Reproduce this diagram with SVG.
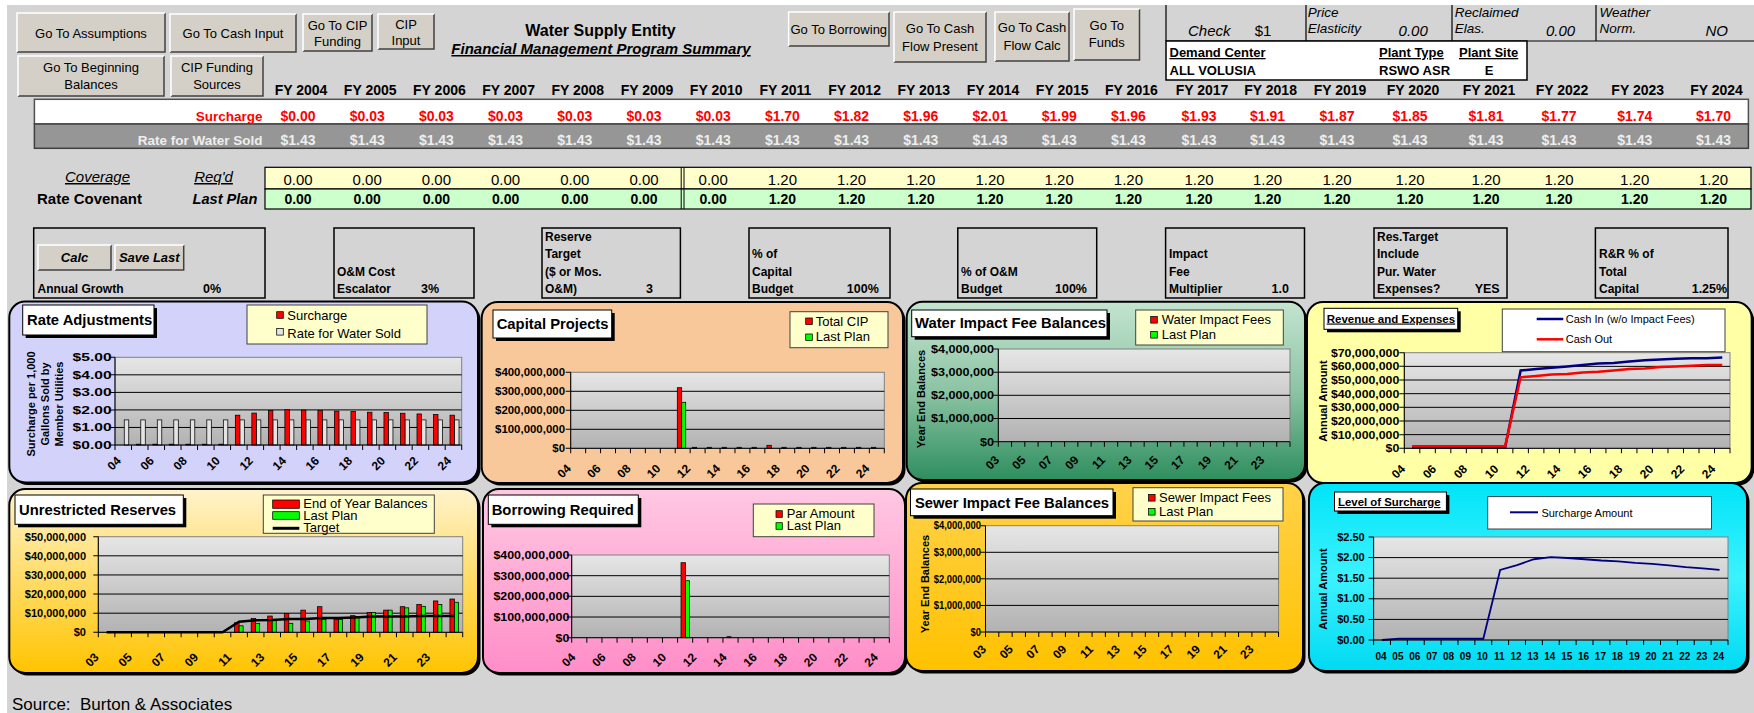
<svg xmlns="http://www.w3.org/2000/svg" width="1754" height="713" viewBox="0 0 1754 713">
<defs>
<linearGradient id="plotg" x1="0" y1="0" x2="0" y2="1"><stop offset="0" stop-color="#E6E6E6"/><stop offset="1" stop-color="#B2B2B2"/></linearGradient>
<linearGradient id="gP3" x1="0" y1="0" x2="0" y2="1"><stop offset="0" stop-color="#C4E4D0"/><stop offset="0.5" stop-color="#8CC4A4"/><stop offset="1" stop-color="#2E8E5E"/></linearGradient>
<linearGradient id="gP5" x1="0" y1="0" x2="0" y2="1"><stop offset="0" stop-color="#FFF3CC"/><stop offset="1" stop-color="#FFC400"/></linearGradient>
<linearGradient id="gP6" x1="0" y1="0" x2="0" y2="1"><stop offset="0" stop-color="#FFC8E2"/><stop offset="1" stop-color="#FF8EC8"/></linearGradient>
<linearGradient id="gP7" x1="0" y1="0" x2="0" y2="1"><stop offset="0" stop-color="#FFD24A"/><stop offset="1" stop-color="#FFC200"/></linearGradient>
<linearGradient id="gP8" x1="0" y1="0" x2="0" y2="1"><stop offset="0" stop-color="#00E4F8"/><stop offset="0.5" stop-color="#3CF2FF"/><stop offset="1" stop-color="#00DAF2"/></linearGradient>
<style>
text{font-family:"Liberation Sans",Arial,sans-serif;fill:#000}
.btn{fill:#D4D0C8}
.hl{fill:none;stroke:#fff;stroke-width:1.5}
.sh{fill:none;stroke:#404040;stroke-width:1.5}
.bt{font-size:13px;text-anchor:middle}
.fy{font-size:14px;font-weight:bold;text-anchor:middle}
.sv{font-size:14px;font-weight:bold;fill:#f00;text-anchor:middle}
.rv{font-size:14px;font-weight:bold;fill:#EEEEEE;text-anchor:middle}
.cy{font-size:15px;text-anchor:middle}
.cg{font-size:14px;font-weight:bold;text-anchor:middle}
.pb{fill:none;stroke:#000;stroke-width:1.5}
.pt{font-size:12px;font-weight:bold}
.pv{font-size:12.5px;font-weight:bold}
.panel{stroke:#000;stroke-width:2}
.shd{fill:#000}
.tbox{fill:#fff;stroke:#000;stroke-width:1}
.ttl{font-size:14.8px;font-weight:bold}
.leg{fill:#FFFFCC;stroke:#404040;stroke-width:1}
.legw{fill:#fff;stroke:#404040;stroke-width:1}
.lt{font-size:13px}
.ls{font-size:11px}
.plot{fill:url(#plotg);stroke:#808080;stroke-width:1}
.grid{stroke:#000;stroke-width:1}
.ax{stroke:#000;stroke-width:1;fill:none}
.tick{stroke:#000;stroke-width:5;fill:none}
.yl{font-size:11px;font-weight:bold;text-anchor:end}
.xl{font-size:12px;font-weight:bold;text-anchor:end}
.yt{font-size:11px;font-weight:bold;text-anchor:middle}
.r{fill:#f00;stroke:#000;stroke-width:0.75}
.g{fill:#0f0;stroke:#000;stroke-width:0.75}
.w{fill:#E4E4E4;stroke:#000;stroke-width:0.75}
</style>
</defs>

<rect x="0" y="0" width="1754" height="713" fill="#fff"/>
<rect x="7" y="5" width="1747" height="708" fill="#D4D4D4"/>

<!-- Buttons -->
<g id="btn-assumptions"><rect class="btn" x="17" y="13" width="148" height="39"/><path class="sh" d="M17,52H165V13"/><path class="hl" d="M17,52V13H165"/><text class="bt" x="91" y="37.5">Go To Assumptions</text></g>
<g id="btn-cash-input"><rect class="btn" x="170" y="14" width="126" height="38"/><path class="sh" d="M170,52H296V14"/><path class="hl" d="M170,52V14H296"/><text class="bt" x="233" y="38">Go To Cash Input</text></g>
<g id="btn-cip-funding"><rect class="btn" x="303" y="14" width="69" height="37"/><path class="sh" d="M303,51H372V14"/><path class="hl" d="M303,51V14H372"/><text class="bt" x="337.5" y="30">Go To CIP</text><text class="bt" x="337.5" y="46">Funding</text></g>
<g id="btn-cip-input"><rect class="btn" x="378" y="14" width="56" height="35"/><path class="sh" d="M378,49H434V14"/><path class="hl" d="M378,49V14H434"/><text class="bt" x="406" y="29">CIP</text><text class="bt" x="406" y="45">Input</text></g>
<g id="btn-beginning"><rect class="btn" x="18" y="56" width="146" height="40"/><path class="sh" d="M18,96H164V56"/><path class="hl" d="M18,96V56H164"/><text class="bt" x="91" y="72">Go To Beginning</text><text class="bt" x="91" y="89">Balances</text></g>
<g id="btn-cip-sources"><rect class="btn" x="171" y="56" width="92" height="40"/><path class="sh" d="M171,96H263V56"/><path class="hl" d="M171,96V56H263"/><text class="bt" x="217" y="72">CIP Funding</text><text class="bt" x="217" y="89">Sources</text></g>
<g id="btn-borrowing"><rect class="btn" x="788.6" y="12" width="100.4" height="34"/><path class="sh" d="M788.6,46H889V12"/><path class="hl" d="M788.6,46V12H889"/><text class="bt" x="838.8" y="34">Go To Borrowing</text></g>
<g id="btn-cf-present"><rect class="btn" x="894" y="12" width="92" height="50"/><path class="sh" d="M894,62H986V12"/><path class="hl" d="M894,62V12H986"/><text class="bt" x="940" y="33">Go To Cash</text><text class="bt" x="940" y="51">Flow Present</text></g>
<g id="btn-cf-calc"><rect class="btn" x="995" y="12" width="74" height="49"/><path class="sh" d="M995,61H1069V12"/><path class="hl" d="M995,61V12H1069"/><text class="bt" x="1032" y="32">Go To Cash</text><text class="bt" x="1032" y="50">Flow Calc</text></g>
<g id="btn-funds"><rect class="btn" x="1074" y="9" width="65.5" height="51"/><path class="sh" d="M1074,60H1139.5V9"/><path class="hl" d="M1074,60V9H1139.5"/><text class="bt" x="1106.8" y="30">Go To</text><text class="bt" x="1106.8" y="47">Funds</text></g>

<!-- Title -->
<g id="title">
<text x="600.5" y="36" text-anchor="middle" font-size="16" font-weight="bold">Water Supply Entity</text>
<text x="601" y="54" text-anchor="middle" font-size="15" font-weight="bold" font-style="italic" text-decoration="underline">Financial Management Program Summary</text>
</g>

<!-- Top right info -->
<g id="info-box">
<path d="M1166,5V41M1306,5V41M1452,5V41M1596,5V41M1166,41H1754" stroke="#000" stroke-width="1.2" fill="none"/>
<text x="1188" y="36" font-size="15" font-style="italic">Check</text>
<text x="1254.7" y="36" font-size="15">$1</text>
<text x="1307.7" y="16.5" font-size="13.5" font-style="italic">Price</text>
<text x="1307.7" y="33" font-size="13.5" font-style="italic">Elasticity</text>
<text x="1398.6" y="36" font-size="15" font-style="italic">0.00</text>
<text x="1454.7" y="16.5" font-size="13.5" font-style="italic">Reclaimed</text>
<text x="1454.7" y="33" font-size="13.5" font-style="italic">Elas.</text>
<text x="1546" y="36" font-size="15" font-style="italic">0.00</text>
<text x="1599.4" y="16.5" font-size="13.5" font-style="italic">Weather</text>
<text x="1599.4" y="33" font-size="13.5" font-style="italic">Norm.</text>
<text x="1705.5" y="36" font-size="15" font-style="italic">NO</text>
</g>
<g id="demand-box">
<rect x="1166" y="41" width="361" height="39" fill="#fff" stroke="#000" stroke-width="1.5"/>
<text x="1169.5" y="57" font-size="13" font-weight="bold" text-decoration="underline">Demand Center</text>
<text x="1379" y="57" font-size="13" font-weight="bold" text-decoration="underline">Plant Type</text>
<text x="1459" y="57" font-size="13" font-weight="bold" text-decoration="underline">Plant Site</text>
<text x="1169.5" y="75" font-size="13" font-weight="bold">ALL VOLUSIA</text>
<text x="1379" y="75" font-size="13" font-weight="bold">RSWO ASR</text>
<text x="1489" y="75" font-size="13" font-weight="bold" text-anchor="middle">E</text>
</g>

<!-- Rate table -->
<g id="rate-table">
<text class="fy" y="95"><tspan x="301">FY 2004</tspan><tspan x="370.2">FY 2005</tspan><tspan x="439.4">FY 2006</tspan><tspan x="508.6">FY 2007</tspan><tspan x="577.8">FY 2008</tspan><tspan x="647">FY 2009</tspan><tspan x="716.2">FY 2010</tspan><tspan x="785.4">FY 2011</tspan><tspan x="854.6">FY 2012</tspan><tspan x="923.8">FY 2013</tspan><tspan x="993">FY 2014</tspan><tspan x="1062.2">FY 2015</tspan><tspan x="1131.4">FY 2016</tspan><tspan x="1202">FY 2017</tspan><tspan x="1270.6">FY 2018</tspan><tspan x="1340">FY 2019</tspan><tspan x="1413">FY 2020</tspan><tspan x="1489">FY 2021</tspan><tspan x="1562">FY 2022</tspan><tspan x="1637.7">FY 2023</tspan><tspan x="1716.5">FY 2024</tspan></text>
<rect x="34.4" y="99.3" width="1714" height="24.7" fill="#fff" stroke="#505050" stroke-width="1.5"/>
<rect x="34.4" y="124" width="1714" height="24.3" fill="#969696" stroke="#404040" stroke-width="1.5"/>
<text x="262.5" y="120.5" font-size="13.5" font-weight="bold" text-anchor="end" style="fill:#f00">Surcharge</text>
<text x="262.5" y="144.5" font-size="13.5" font-weight="bold" text-anchor="end" style="fill:#EEEEEE">Rate for Water Sold</text>
<text class="sv" y="120.5" style="fill:#f00"><tspan x="298">$0.00</tspan><tspan x="367.2">$0.03</tspan><tspan x="436.4">$0.03</tspan><tspan x="505.6">$0.03</tspan><tspan x="574.8">$0.03</tspan><tspan x="644">$0.03</tspan><tspan x="713.2">$0.03</tspan><tspan x="782.4">$1.70</tspan><tspan x="851.6">$1.82</tspan><tspan x="920.8">$1.96</tspan><tspan x="990">$2.01</tspan><tspan x="1059.2">$1.99</tspan><tspan x="1128.4">$1.96</tspan><tspan x="1199">$1.93</tspan><tspan x="1267.6">$1.91</tspan><tspan x="1337">$1.87</tspan><tspan x="1410">$1.85</tspan><tspan x="1486">$1.81</tspan><tspan x="1559">$1.77</tspan><tspan x="1634.7">$1.74</tspan><tspan x="1713.5">$1.70</tspan></text>
<text class="rv" y="144.5" style="fill:#EEEEEE"><tspan x="298">$1.43</tspan><tspan x="367.2">$1.43</tspan><tspan x="436.4">$1.43</tspan><tspan x="505.6">$1.43</tspan><tspan x="574.8">$1.43</tspan><tspan x="644">$1.43</tspan><tspan x="713.2">$1.43</tspan><tspan x="782.4">$1.43</tspan><tspan x="851.6">$1.43</tspan><tspan x="920.8">$1.43</tspan><tspan x="990">$1.43</tspan><tspan x="1059.2">$1.43</tspan><tspan x="1128.4">$1.43</tspan><tspan x="1199">$1.43</tspan><tspan x="1267.6">$1.43</tspan><tspan x="1337">$1.43</tspan><tspan x="1410">$1.43</tspan><tspan x="1486">$1.43</tspan><tspan x="1559">$1.43</tspan><tspan x="1634.7">$1.43</tspan><tspan x="1713.5">$1.43</tspan></text>
</g>

<!-- Coverage table -->
<g id="coverage-table">
<text x="97.5" y="182" font-size="15" font-style="italic" text-anchor="middle" text-decoration="underline">Coverage</text>
<text x="213.5" y="182" font-size="15" font-style="italic" text-anchor="middle" text-decoration="underline">Req'd</text>
<text x="37" y="204" font-size="15" font-weight="bold">Rate Covenant</text>
<text x="192.5" y="204" font-size="14.6" font-weight="bold" font-style="italic">Last Plan</text>
<rect x="265" y="167.3" width="1486" height="21.7" fill="#FFFFCC" stroke="#000" stroke-width="1.2"/>
<rect x="265" y="189" width="1486" height="20" fill="#CCFFCC" stroke="#000" stroke-width="1.2"/>
<path d="M681.2,167.3V209M684,167.3V209" stroke="#000" stroke-width="1"/>
<text class="cy" y="185"><tspan x="298">0.00</tspan><tspan x="367.2">0.00</tspan><tspan x="436.4">0.00</tspan><tspan x="505.6">0.00</tspan><tspan x="574.8">0.00</tspan><tspan x="644">0.00</tspan><tspan x="713.2">0.00</tspan><tspan x="782.4">1.20</tspan><tspan x="851.6">1.20</tspan><tspan x="920.8">1.20</tspan><tspan x="990">1.20</tspan><tspan x="1059.2">1.20</tspan><tspan x="1128.4">1.20</tspan><tspan x="1199">1.20</tspan><tspan x="1267.6">1.20</tspan><tspan x="1337">1.20</tspan><tspan x="1410">1.20</tspan><tspan x="1486">1.20</tspan><tspan x="1559">1.20</tspan><tspan x="1634.7">1.20</tspan><tspan x="1713.5">1.20</tspan></text>
<text class="cg" y="204"><tspan x="298">0.00</tspan><tspan x="367.2">0.00</tspan><tspan x="436.4">0.00</tspan><tspan x="505.6">0.00</tspan><tspan x="574.8">0.00</tspan><tspan x="644">0.00</tspan><tspan x="713.2">0.00</tspan><tspan x="782.4">1.20</tspan><tspan x="851.6">1.20</tspan><tspan x="920.8">1.20</tspan><tspan x="990">1.20</tspan><tspan x="1059.2">1.20</tspan><tspan x="1128.4">1.20</tspan><tspan x="1199">1.20</tspan><tspan x="1267.6">1.20</tspan><tspan x="1337">1.20</tspan><tspan x="1410">1.20</tspan><tspan x="1486">1.20</tspan><tspan x="1559">1.20</tspan><tspan x="1634.7">1.20</tspan><tspan x="1713.5">1.20</tspan></text>
</g>

<!-- Parameter boxes -->
<g id="param-growth">
<rect class="pb" x="33.7" y="228" width="231.3" height="70"/>
<rect class="btn" x="38" y="245" width="73" height="25"/><path class="sh" d="M38,270H111V245"/><path class="hl" d="M38,270V245H111"/>
<text x="74.5" y="262" font-size="13" font-weight="bold" font-style="italic" text-anchor="middle">Calc</text>
<rect class="btn" x="115" y="245" width="68.7" height="25"/><path class="sh" d="M115,270H183.7V245"/><path class="hl" d="M115,270V245H183.7"/>
<text x="149.3" y="262" font-size="13" font-weight="bold" font-style="italic" text-anchor="middle">Save Last</text>
<text class="pt" x="37.5" y="293">Annual Growth</text><text class="pv" x="203" y="293">0%</text>
</g>
<g id="param-escalator">
<rect class="pb" x="334" y="228" width="140" height="70"/>
<text class="pt" x="337" y="275.5">O&amp;M Cost</text><text class="pt" x="337" y="293">Escalator</text><text class="pv" x="421" y="293">3%</text>
</g>
<g id="param-reserve">
<rect class="pb" x="542" y="228" width="138.4" height="70"/>
<text class="pt" x="545" y="240.5">Reserve</text><text class="pt" x="545" y="258">Target</text><text class="pt" x="545" y="275.5">($ or Mos.</text><text class="pt" x="545" y="293">O&amp;M)</text><text class="pv" x="646" y="293">3</text>
</g>
<g id="param-capital">
<rect class="pb" x="749" y="228" width="141" height="70"/>
<text class="pt" x="752" y="258">% of</text><text class="pt" x="752" y="275.5">Capital</text><text class="pt" x="752" y="293">Budget</text><text class="pv" x="846.8" y="293">100%</text>
</g>
<g id="param-om">
<rect class="pb" x="957.8" y="228" width="138.9" height="70"/>
<text class="pt" x="961" y="275.5">% of O&amp;M</text><text class="pt" x="961" y="293">Budget</text><text class="pv" x="1055" y="293">100%</text>
</g>
<g id="param-impact">
<rect class="pb" x="1165.6" y="228" width="138.9" height="70"/>
<text class="pt" x="1169" y="258">Impact</text><text class="pt" x="1169" y="275.5">Fee</text><text class="pt" x="1169" y="293">Multiplier</text><text class="pv" x="1271.5" y="293">1.0</text>
</g>
<g id="param-restarget">
<rect class="pb" x="1374" y="228" width="133" height="70"/>
<text class="pt" x="1377" y="240.5">Res.Target</text><text class="pt" x="1377" y="258">Include</text><text class="pt" x="1377" y="275.5">Pur. Water</text><text class="pt" x="1377" y="293">Expenses?</text><text class="pv" x="1474.7" y="293">YES</text>
</g>
<g id="param-rr">
<rect class="pb" x="1595.4" y="228" width="132.6" height="70"/>
<text class="pt" x="1599" y="258">R&amp;R % of</text><text class="pt" x="1599" y="275.5">Total</text><text class="pt" x="1599" y="293">Capital</text><text class="pv" x="1691.7" y="293">1.25%</text>
</g>

<!-- Panel 1: Rate Adjustments -->
<g id="chart-rate-adjustments">
<rect class="shd" x="11.8" y="304" width="468.7" height="181" rx="16"/>
<rect class="panel" x="9.3" y="301.5" width="468.7" height="181" rx="16" fill="#D2D2FA"/>
<rect class="plot" x="115" y="357.3" width="346.7" height="87.7"/>
<path class="grid" d="M115,374.84H461.7M115,392.38H461.7M115,409.92H461.7M115,427.46H461.7"/>
<g class="w">
<rect x="124.25" y="419.9" width="4.5" height="25.1"/><rect x="140.77" y="419.9" width="4.5" height="25.1"/><rect x="157.28" y="419.9" width="4.5" height="25.1"/><rect x="173.79" y="419.9" width="4.5" height="25.1"/><rect x="190.3" y="419.9" width="4.5" height="25.1"/><rect x="206.82" y="419.9" width="4.5" height="25.1"/><rect x="223.33" y="419.9" width="4.5" height="25.1"/><rect x="239.84" y="419.9" width="4.5" height="25.1"/><rect x="256.35" y="419.9" width="4.5" height="25.1"/><rect x="272.87" y="419.9" width="4.5" height="25.1"/><rect x="289.38" y="419.9" width="4.5" height="25.1"/><rect x="305.89" y="419.9" width="4.5" height="25.1"/><rect x="322.4" y="419.9" width="4.5" height="25.1"/><rect x="338.92" y="419.9" width="4.5" height="25.1"/><rect x="355.43" y="419.9" width="4.5" height="25.1"/><rect x="371.94" y="419.9" width="4.5" height="25.1"/><rect x="388.45" y="419.9" width="4.5" height="25.1"/><rect x="404.97" y="419.9" width="4.5" height="25.1"/><rect x="421.48" y="419.9" width="4.5" height="25.1"/><rect x="437.99" y="419.9" width="4.5" height="25.1"/><rect x="454.5" y="419.9" width="4.5" height="25.1"/>
</g>
<g class="r">
<rect x="136.27" y="444.2" width="4.5" height="0.8"/><rect x="152.78" y="444.2" width="4.5" height="0.8"/><rect x="169.29" y="444.2" width="4.5" height="0.8"/><rect x="185.8" y="444.2" width="4.5" height="0.8"/><rect x="202.32" y="444.2" width="4.5" height="0.8"/><rect x="218.83" y="444.2" width="4.5" height="0.8"/>
<rect x="235.34" y="415.18" width="4.5" height="29.82"/><rect x="251.85" y="413.08" width="4.5" height="31.92"/><rect x="268.37" y="410.62" width="4.5" height="34.38"/><rect x="284.88" y="409.74" width="4.5" height="35.26"/><rect x="301.39" y="410.1" width="4.5" height="34.9"/><rect x="317.9" y="410.62" width="4.5" height="34.38"/><rect x="334.42" y="411.15" width="4.5" height="33.85"/><rect x="350.93" y="411.5" width="4.5" height="33.5"/><rect x="367.44" y="412.2" width="4.5" height="32.8"/><rect x="383.95" y="412.55" width="4.5" height="32.45"/><rect x="400.47" y="413.25" width="4.5" height="31.75"/><rect x="416.98" y="413.95" width="4.5" height="31.05"/><rect x="433.49" y="414.48" width="4.5" height="30.52"/><rect x="450" y="415.18" width="4.5" height="29.82"/>
</g>
<path class="ax" d="M115,357.3V445H461.7"/>
<line class="tick" x1="112.5" y1="356.8" x2="112.5" y2="445.5" stroke-dasharray="1 16.54"/>
<line class="tick" x1="114.5" y1="447.5" x2="462.2" y2="447.5" stroke-dasharray="1 15.51"/>
<g transform="translate(111.7 0) scale(1.42 1)"><text class="yl" x="0" y="361.3">$5.00</text><text class="yl" x="0" y="378.8">$4.00</text><text class="yl" x="0" y="396.4">$3.00</text><text class="yl" x="0" y="413.9">$2.00</text><text class="yl" x="0" y="431.5">$1.00</text><text class="yl" x="0" y="449">$0.00</text></g>
<text class="yt" font-size="12" transform="translate(35 404) rotate(-90)">Surcharge per 1,000</text>
<text class="yt" font-size="12" transform="translate(49 404) rotate(-90)">Gallons Sold by</text>
<text class="yt" font-size="12" transform="translate(63 404) rotate(-90)">Member Utilities</text>
<text class="xl" transform="translate(121.75 461.5) rotate(-45)">04</text><text class="xl" transform="translate(154.78 461.5) rotate(-45)">06</text><text class="xl" transform="translate(187.8 461.5) rotate(-45)">08</text><text class="xl" transform="translate(220.83 461.5) rotate(-45)">10</text><text class="xl" transform="translate(253.85 461.5) rotate(-45)">12</text><text class="xl" transform="translate(286.88 461.5) rotate(-45)">14</text><text class="xl" transform="translate(319.9 461.5) rotate(-45)">16</text><text class="xl" transform="translate(352.93 461.5) rotate(-45)">18</text><text class="xl" transform="translate(385.95 461.5) rotate(-45)">20</text><text class="xl" transform="translate(418.98 461.5) rotate(-45)">22</text><text class="xl" transform="translate(452 461.5) rotate(-45)">24</text>
<rect class="shd" x="25.7" y="308" width="131.3" height="30"/>
<rect class="tbox" x="22.7" y="305" width="131.3" height="30"/>
<text class="ttl" x="27" y="325">Rate Adjustments</text>
<rect class="leg" x="247" y="305" width="180" height="39"/>
<rect class="r" x="276.7" y="311.7" width="6.6" height="6.6"/><text class="lt" x="287.3" y="319.5">Surcharge</text>
<rect class="w" x="276.7" y="328.5" width="6.6" height="6.6"/><text class="lt" x="287.3" y="337.5">Rate for Water Sold</text>
</g>

<!-- Panel 2: Capital Projects -->
<g id="chart-capital-projects">
<rect class="shd" x="484.2" y="304.5" width="421.3" height="181" rx="16"/>
<rect class="panel" x="481.7" y="302" width="421.3" height="181" rx="16" fill="#F8C89A"/>
<rect class="plot" x="570.7" y="372.3" width="313.6" height="76"/>
<path class="grid" d="M570.7,391.3H884.3M570.7,410.3H884.3M570.7,429.3H884.3"/>
<rect class="r" x="677.3" y="387.7" width="4.4" height="60.6"/>
<rect class="g" x="681.7" y="402.3" width="4" height="46"/>
<g class="r">
<rect x="692.23" y="447.3" width="4.4" height="1"/><rect x="707.16" y="447.3" width="4.4" height="1"/><rect x="722.09" y="447.3" width="4.4" height="1"/><rect x="737.03" y="447.3" width="4.4" height="1"/><rect x="751.96" y="447.3" width="4.4" height="1"/><rect x="766.89" y="445.3" width="4.4" height="3"/><rect x="781.82" y="447.3" width="4.4" height="1"/><rect x="796.76" y="447.3" width="4.4" height="1"/><rect x="811.69" y="447.3" width="4.4" height="1"/><rect x="826.62" y="447.3" width="4.4" height="1"/><rect x="841.55" y="447.3" width="4.4" height="1"/><rect x="856.49" y="447.3" width="4.4" height="1"/><rect x="871.42" y="447.3" width="4.4" height="1"/>
</g>
<path class="ax" d="M570.7,372.3V448.3H884.3"/>
<line class="tick" x1="568.2" y1="371.8" x2="568.2" y2="448.8" stroke-dasharray="1 18"/>
<line class="tick" x1="570.2" y1="450.8" x2="884.8" y2="450.8" stroke-dasharray="1 13.933"/>
<g transform="translate(565 0) scale(1.04 1)"><text class="yl" x="0" y="376.3">$400,000,000</text><text class="yl" x="0" y="395.3">$300,000,000</text><text class="yl" x="0" y="414.3">$200,000,000</text><text class="yl" x="0" y="433.3">$100,000,000</text><text class="yl" x="0" y="452.3">$0</text></g>
<text class="xl" transform="translate(571.67 469.3) rotate(-45)">04</text><text class="xl" transform="translate(601.53 469.3) rotate(-45)">06</text><text class="xl" transform="translate(631.4 469.3) rotate(-45)">08</text><text class="xl" transform="translate(661.26 469.3) rotate(-45)">10</text><text class="xl" transform="translate(691.13 469.3) rotate(-45)">12</text><text class="xl" transform="translate(720.99 469.3) rotate(-45)">14</text><text class="xl" transform="translate(750.86 469.3) rotate(-45)">16</text><text class="xl" transform="translate(780.72 469.3) rotate(-45)">18</text><text class="xl" transform="translate(810.59 469.3) rotate(-45)">20</text><text class="xl" transform="translate(840.45 469.3) rotate(-45)">22</text><text class="xl" transform="translate(870.32 469.3) rotate(-45)">24</text>
<rect class="shd" x="496" y="313" width="118.7" height="28"/>
<rect class="tbox" x="493" y="310" width="118.7" height="28"/>
<text class="ttl" x="496.7" y="329">Capital Projects</text>
<rect class="leg" x="790" y="311.7" width="98" height="36"/>
<rect class="r" x="805.7" y="318" width="6.6" height="6.4"/><text class="lt" x="815.7" y="325.5">Total CIP</text>
<rect class="g" x="805.7" y="334" width="6.6" height="6.4"/><text class="lt" x="815.7" y="341">Last Plan</text>
</g>

<!-- Panel 3: Water Impact Fee Balances -->
<g id="chart-water-impact">
<rect class="shd" x="909.2" y="304.2" width="398.3" height="178.3" rx="16"/>
<rect class="panel" x="906.7" y="301.7" width="398.3" height="178.3" rx="16" fill="url(#gP3)"/>
<rect class="plot" x="998.3" y="349" width="291.7" height="92.7"/>
<path class="grid" d="M998.3,372.2H1290M998.3,395.3H1290M998.3,418.5H1290"/>
<path class="ax" d="M998.3,349V441.7H1290"/>
<line class="tick" x1="995.8" y1="348.5" x2="995.8" y2="442.2" stroke-dasharray="1 22.175"/>
<line class="tick" x1="997.8" y1="444.2" x2="1290.5" y2="444.2" stroke-dasharray="1 12.26"/>
<g transform="translate(994 0) scale(1.145 1)"><text class="yl" x="0" y="353">$4,000,000</text><text class="yl" x="0" y="376.2">$3,000,000</text><text class="yl" x="0" y="399.3">$2,000,000</text><text class="yl" x="0" y="422.5">$1,000,000</text><text class="yl" x="0" y="445.7">$0</text></g>
<text class="yt" transform="translate(925 399) rotate(-90)">Year End Balances</text>
<text class="xl" transform="translate(999.93 460.7) rotate(-45)">03</text><text class="xl" transform="translate(1026.45 460.7) rotate(-45)">05</text><text class="xl" transform="translate(1052.97 460.7) rotate(-45)">07</text><text class="xl" transform="translate(1079.49 460.7) rotate(-45)">09</text><text class="xl" transform="translate(1106.01 460.7) rotate(-45)">11</text><text class="xl" transform="translate(1132.53 460.7) rotate(-45)">13</text><text class="xl" transform="translate(1159.05 460.7) rotate(-45)">15</text><text class="xl" transform="translate(1185.57 460.7) rotate(-45)">17</text><text class="xl" transform="translate(1212.09 460.7) rotate(-45)">19</text><text class="xl" transform="translate(1238.61 460.7) rotate(-45)">21</text><text class="xl" transform="translate(1265.13 460.7) rotate(-45)">23</text>
<rect class="shd" x="914.7" y="313" width="195.3" height="26.7"/>
<rect class="tbox" x="911.7" y="310" width="195.3" height="26.7"/>
<text class="ttl" x="915" y="328">Water Impact Fee Balances</text>
<rect class="leg" x="1135.7" y="310" width="147.6" height="35"/>
<rect class="r" x="1150.7" y="316.5" width="6.6" height="6.6"/><text class="lt" x="1161.7" y="323.5">Water Impact Fees</text>
<rect class="g" x="1150.7" y="331.5" width="6.6" height="6.6"/><text class="lt" x="1161.7" y="338.5">Last Plan</text>
</g>

<!-- Panel 4: Revenue and Expenses -->
<g id="chart-revenue-expenses">
<rect class="shd" x="1309.5" y="304.5" width="444.7" height="181" rx="16"/>
<rect class="panel" x="1307" y="302" width="444.7" height="181" rx="16" fill="#FFFFA6"/>
<rect class="plot" x="1404.3" y="352.7" width="325.7" height="95.6"/>
<path class="grid" d="M1404.3,366.36H1730M1404.3,380.01H1730M1404.3,393.67H1730M1404.3,407.33H1730M1404.3,420.99H1730M1404.3,434.64H1730"/>
<polyline fill="none" stroke="#000080" stroke-width="2.5" points="1412.06,447.6 1427.57,447.6 1443.08,447.6 1458.59,447.6 1474.1,447.6 1489.61,447.6 1505.12,447.6 1520.63,370.5 1536.14,369.1 1551.65,367.7 1567.16,366.4 1582.67,365 1598.18,363.6 1613.69,362.9 1629.2,361.6 1644.71,360.2 1660.22,359.5 1675.73,358.8 1691.24,358.2 1706.75,358.2 1722.26,357.5"/>
<polyline fill="none" stroke="#FF0000" stroke-width="2.5" points="1412.06,446.3 1427.57,446.3 1443.08,446.3 1458.59,446.3 1474.1,446.3 1489.61,446.3 1505.12,446.3 1520.63,377.3 1536.14,375.9 1551.65,374.6 1567.16,373.9 1582.67,372.5 1598.18,371.8 1613.69,370.5 1629.2,369.1 1644.71,368.4 1660.22,367 1675.73,366.4 1691.24,365.7 1706.75,365 1722.26,365"/>
<path class="ax" d="M1404.3,352.7V448.3H1730"/>
<line class="tick" x1="1401.8" y1="352.2" x2="1401.8" y2="448.8" stroke-dasharray="1 12.657"/>
<line class="tick" x1="1403.8" y1="450.8" x2="1730.5" y2="450.8" stroke-dasharray="1 14.51"/>
<g transform="translate(1399.3 0) scale(1.12 1)"><text class="yl" x="0" y="356.7">$70,000,000</text><text class="yl" x="0" y="370.4">$60,000,000</text><text class="yl" x="0" y="384">$50,000,000</text><text class="yl" x="0" y="397.7">$40,000,000</text><text class="yl" x="0" y="411.3">$30,000,000</text><text class="yl" x="0" y="425">$20,000,000</text><text class="yl" x="0" y="438.6">$10,000,000</text><text class="yl" x="0" y="452.3">$0</text></g>
<text class="yt" font-size="11.5" transform="translate(1326.5 401) rotate(-90)">Annual Amount</text>
<text class="xl" transform="translate(1406.06 469.7) rotate(-45)">04</text><text class="xl" transform="translate(1437.08 469.7) rotate(-45)">06</text><text class="xl" transform="translate(1468.1 469.7) rotate(-45)">08</text><text class="xl" transform="translate(1499.12 469.7) rotate(-45)">10</text><text class="xl" transform="translate(1530.14 469.7) rotate(-45)">12</text><text class="xl" transform="translate(1561.16 469.7) rotate(-45)">14</text><text class="xl" transform="translate(1592.18 469.7) rotate(-45)">16</text><text class="xl" transform="translate(1623.2 469.7) rotate(-45)">18</text><text class="xl" transform="translate(1654.22 469.7) rotate(-45)">20</text><text class="xl" transform="translate(1685.24 469.7) rotate(-45)">22</text><text class="xl" transform="translate(1716.26 469.7) rotate(-45)">24</text>
<rect class="shd" x="1327" y="311.3" width="133.7" height="21"/>
<rect class="tbox" x="1324" y="308.3" width="133.7" height="21"/>
<text x="1326.7" y="322.5" font-size="11.5" font-weight="bold" text-decoration="underline">Revenue and Expenses</text>
<rect class="legw" x="1502.3" y="309" width="222.7" height="42.7"/>
<line x1="1536.7" y1="319" x2="1563.3" y2="319" stroke="#000080" stroke-width="2.5"/><text class="ls" x="1565.7" y="323">Cash In (w/o Impact Fees)</text>
<line x1="1536.7" y1="339.3" x2="1563.3" y2="339.3" stroke="#FF0000" stroke-width="2.5"/><text class="ls" x="1565.7" y="343">Cash Out</text>
</g>

<!-- Panel 5: Unrestricted Reserves -->
<g id="chart-unrestricted-reserves">
<rect class="shd" x="11.8" y="491.5" width="468.7" height="184" rx="16"/>
<rect class="panel" x="9.3" y="489" width="468.7" height="184" rx="16" fill="url(#gP5)"/>
<rect class="plot" x="98.3" y="536.7" width="364.4" height="95.6"/>
<path class="grid" d="M98.3,555.82H462.7M98.3,574.94H462.7M98.3,594.06H462.7M98.3,613.18H462.7"/>
<g class="r">
<rect x="234.6" y="622.74" width="4.5" height="9.56"/><rect x="251.16" y="618.34" width="4.5" height="13.96"/><rect x="267.72" y="616.05" width="4.5" height="16.25"/><rect x="284.29" y="613.37" width="4.5" height="18.93"/><rect x="300.85" y="610.12" width="4.5" height="22.18"/><rect x="317.42" y="606.68" width="4.5" height="25.62"/><rect x="333.98" y="619.3" width="4.5" height="13"/><rect x="350.55" y="615.67" width="4.5" height="16.63"/><rect x="367.11" y="612.42" width="4.5" height="19.88"/><rect x="383.67" y="610.12" width="4.5" height="22.18"/><rect x="400.24" y="606.68" width="4.5" height="25.62"/><rect x="416.8" y="604.38" width="4.5" height="27.92"/><rect x="433.37" y="600.94" width="4.5" height="31.36"/><rect x="449.93" y="599.03" width="4.5" height="33.27"/>
</g>
<g class="g">
<rect x="239.1" y="625.8" width="4" height="6.5"/><rect x="255.66" y="623.31" width="4" height="8.99"/><rect x="272.22" y="620.06" width="4" height="12.24"/><rect x="288.79" y="623.31" width="4" height="8.99"/><rect x="305.35" y="621.02" width="4" height="11.28"/><rect x="321.92" y="619.3" width="4" height="13"/><rect x="338.48" y="619.3" width="4" height="13"/><rect x="355.05" y="616.62" width="4" height="15.68"/><rect x="371.61" y="612.42" width="4" height="19.88"/><rect x="388.17" y="610.12" width="4" height="22.18"/><rect x="404.74" y="607.83" width="4" height="24.47"/><rect x="421.3" y="606.3" width="4" height="26"/><rect x="437.87" y="604.38" width="4" height="27.92"/><rect x="454.43" y="602.28" width="4" height="30.02"/>
</g>
<polyline fill="none" stroke="#000" stroke-width="2.5" points="106.58,632.3 123.15,632.3 139.71,632.3 156.27,632.3 172.84,632.3 189.4,632.3 205.97,632.3 222.53,632.3 239.1,621.8 255.66,620.3 272.22,619.9 288.79,618.9 305.35,618.9 321.92,618 338.48,618 355.05,617.4 371.61,616.6 388.17,616.6 404.74,616.4 421.3,616 437.87,616 454.43,616"/>
<path class="ax" d="M98.3,536.7V632.3H462.7"/>
<line class="tick" x1="95.8" y1="536.2" x2="95.8" y2="632.8" stroke-dasharray="1 18.12"/>
<line class="tick" x1="97.8" y1="634.8" x2="463.2" y2="634.8" stroke-dasharray="1 15.564"/>
<g transform="translate(86 0)"><text class="yl" x="0" y="540.7">$50,000,000</text><text class="yl" x="0" y="559.8">$40,000,000</text><text class="yl" x="0" y="578.9">$30,000,000</text><text class="yl" x="0" y="598.1">$20,000,000</text><text class="yl" x="0" y="617.2">$10,000,000</text><text class="yl" x="0" y="636.3">$0</text></g>
<text class="xl" transform="translate(99.58 658) rotate(-45)">03</text><text class="xl" transform="translate(132.71 658) rotate(-45)">05</text><text class="xl" transform="translate(165.84 658) rotate(-45)">07</text><text class="xl" transform="translate(198.97 658) rotate(-45)">09</text><text class="xl" transform="translate(232.1 658) rotate(-45)">11</text><text class="xl" transform="translate(265.22 658) rotate(-45)">13</text><text class="xl" transform="translate(298.35 658) rotate(-45)">15</text><text class="xl" transform="translate(331.48 658) rotate(-45)">17</text><text class="xl" transform="translate(364.61 658) rotate(-45)">19</text><text class="xl" transform="translate(397.74 658) rotate(-45)">21</text><text class="xl" transform="translate(430.87 658) rotate(-45)">23</text>
<rect class="shd" x="18" y="498" width="168.3" height="29.3"/>
<rect class="tbox" x="15" y="495" width="168.3" height="29.3"/>
<text class="ttl" x="19" y="514.5">Unrestricted Reserves</text>
<rect class="leg" x="263.3" y="495" width="171" height="38.3"/>
<rect class="r" x="272.7" y="500" width="26.6" height="8.3"/><text class="lt" x="303.3" y="507.5">End of Year Balances</text>
<rect class="g" x="272.7" y="511.7" width="26.6" height="7.6"/><text class="lt" x="303.3" y="519.5">Last Plan</text>
<line x1="272.7" y1="528.3" x2="299.3" y2="528.3" stroke="#000" stroke-width="3"/><text class="lt" x="303.3" y="531.5">Target</text>
</g>

<!-- Panel 6: Borrowing Required -->
<g id="chart-borrowing-required">
<rect class="shd" x="485.5" y="491.5" width="422" height="184" rx="16"/>
<rect class="panel" x="483" y="489" width="422" height="184" rx="16" fill="url(#gP6)"/>
<rect class="plot" x="571.7" y="555" width="317.6" height="82.7"/>
<path class="grid" d="M571.7,575.68H889.3M571.7,596.35H889.3M571.7,617.03H889.3"/>
<rect class="r" x="681" y="562.7" width="4.6" height="75"/>
<rect class="g" x="685.6" y="580.7" width="4" height="57"/>
<rect class="r" x="727" y="636.7" width="4" height="1"/>
<path class="ax" d="M571.7,555V637.7H889.3"/>
<line class="tick" x1="569.2" y1="554.5" x2="569.2" y2="638.2" stroke-dasharray="1 19.675"/>
<line class="tick" x1="571.2" y1="640.2" x2="889.8" y2="640.2" stroke-dasharray="1 14.124"/>
<g transform="translate(569.3 0) scale(1.13 1)"><text class="yl" x="0" y="559">$400,000,000</text><text class="yl" x="0" y="579.7">$300,000,000</text><text class="yl" x="0" y="600.4">$200,000,000</text><text class="yl" x="0" y="621">$100,000,000</text><text class="yl" x="0" y="641.7">$0</text></g>
<text class="xl" transform="translate(576.26 658) rotate(-45)">04</text><text class="xl" transform="translate(606.51 658) rotate(-45)">06</text><text class="xl" transform="translate(636.76 658) rotate(-45)">08</text><text class="xl" transform="translate(667.01 658) rotate(-45)">10</text><text class="xl" transform="translate(697.26 658) rotate(-45)">12</text><text class="xl" transform="translate(727.5 658) rotate(-45)">14</text><text class="xl" transform="translate(757.75 658) rotate(-45)">16</text><text class="xl" transform="translate(788 658) rotate(-45)">18</text><text class="xl" transform="translate(818.25 658) rotate(-45)">20</text><text class="xl" transform="translate(848.5 658) rotate(-45)">22</text><text class="xl" transform="translate(878.74 658) rotate(-45)">24</text>
<rect class="shd" x="491.3" y="498" width="150" height="29.3"/>
<rect class="tbox" x="488.3" y="495" width="150" height="29.3"/>
<text class="ttl" x="491.7" y="514.5">Borrowing Required</text>
<rect class="leg" x="753.3" y="504" width="120.7" height="32.7"/>
<rect class="r" x="776" y="510.7" width="6.3" height="6.6"/><text class="lt" x="786.7" y="518.3">Par Amount</text>
<rect class="g" x="776" y="522.7" width="6.3" height="6.6"/><text class="lt" x="786.7" y="530">Last Plan</text>
</g>

<!-- Panel 7: Sewer Impact Fee Balances -->
<g id="chart-sewer-impact">
<rect class="shd" x="908.5" y="485.5" width="397" height="188" rx="16"/>
<rect class="panel" x="906" y="483" width="397" height="188" rx="16" fill="url(#gP7)"/>
<rect class="plot" x="985.5" y="525.7" width="293.1" height="106.3"/>
<path class="grid" d="M985.5,552.3H1278.6M985.5,578.85H1278.6M985.5,605.4H1278.6"/>
<path class="ax" d="M985.5,525.7V632H1278.6"/>
<line class="tick" x1="983" y1="525.2" x2="983" y2="632.5" stroke-dasharray="1 25.575"/>
<line class="tick" x1="985" y1="634.5" x2="1279.1" y2="634.5" stroke-dasharray="1 12.32"/>
<g transform="translate(981 0) scale(0.86 1)"><text class="yl" font-size="10.5" x="0" y="529.5">$4,000,000</text><text class="yl" font-size="10.5" x="0" y="556.1">$3,000,000</text><text class="yl" font-size="10.5" x="0" y="582.6">$2,000,000</text><text class="yl" font-size="10.5" x="0" y="609.2">$1,000,000</text><text class="yl" font-size="10.5" x="0" y="635.8">$0</text></g>
<text class="yt" transform="translate(929 584) rotate(-90)">Year End Balances</text>
<text class="xl" transform="translate(987.09 650) rotate(-45)">03</text><text class="xl" transform="translate(1013.83 650) rotate(-45)">05</text><text class="xl" transform="translate(1040.57 650) rotate(-45)">07</text><text class="xl" transform="translate(1067.31 650) rotate(-45)">09</text><text class="xl" transform="translate(1094.05 650) rotate(-45)">11</text><text class="xl" transform="translate(1120.79 650) rotate(-45)">13</text><text class="xl" transform="translate(1147.54 650) rotate(-45)">15</text><text class="xl" transform="translate(1174.28 650) rotate(-45)">17</text><text class="xl" transform="translate(1201.02 650) rotate(-45)">19</text><text class="xl" transform="translate(1227.76 650) rotate(-45)">21</text><text class="xl" transform="translate(1254.5 650) rotate(-45)">23</text>
<rect class="shd" x="913.5" y="492" width="202.5" height="26.7"/>
<rect class="tbox" x="910.5" y="489" width="202.5" height="26.7"/>
<text class="ttl" x="915" y="507.5">Sewer Impact Fee Balances</text>
<rect class="leg" x="1133" y="487.7" width="150" height="33.3"/>
<rect class="r" x="1148.5" y="494.5" width="6.6" height="6.6"/><text class="lt" x="1159" y="502">Sewer Impact Fees</text>
<rect class="g" x="1148.5" y="508.5" width="6.6" height="6.6"/><text class="lt" x="1159" y="516">Last Plan</text>
</g>

<!-- Panel 8: Level of Surcharge -->
<g id="chart-level-surcharge">
<rect class="shd" x="1311.5" y="485.5" width="438" height="188" rx="16"/>
<rect class="panel" x="1309" y="483" width="438" height="188" rx="16" fill="url(#gP8)"/>
<rect class="plot" x="1373.6" y="537" width="354.4" height="103"/>
<path class="grid" d="M1373.6,557.6H1728M1373.6,578.2H1728M1373.6,598.8H1728M1373.6,619.4H1728"/>
<polyline fill="none" stroke="#000080" stroke-width="1.8" points="1382.04,640 1398.91,638.76 1415.79,638.76 1432.67,638.76 1449.54,638.76 1466.42,638.76 1483.3,638.76 1500.17,569.96 1517.05,565.02 1533.92,559.25 1550.8,557.19 1567.68,558.01 1584.55,559.25 1601.43,560.48 1618.31,561.31 1635.18,562.96 1652.06,563.78 1668.94,565.43 1685.81,567.08 1702.69,568.31 1719.56,569.96"/>
<path class="ax" d="M1373.6,537V640H1728"/>
<line class="tick" x1="1371.1" y1="536.5" x2="1371.1" y2="640.5" stroke-dasharray="1 19.6"/>
<line class="tick" x1="1373.1" y1="642.5" x2="1728.5" y2="642.5" stroke-dasharray="1 15.876"/>
<g transform="translate(1364.7 0)"><text class="yl" font-size="10" x="0" y="540.6">$2.50</text><text class="yl" font-size="10" x="0" y="561.2">$2.00</text><text class="yl" font-size="10" x="0" y="581.8">$1.50</text><text class="yl" font-size="10" x="0" y="602.4">$1.00</text><text class="yl" font-size="10" x="0" y="623">$0.50</text><text class="yl" font-size="10" x="0" y="643.6">$0.00</text></g>
<text class="yt" font-size="11.5" transform="translate(1327 589) rotate(-90)">Annual Amount</text>
<text font-size="10" font-weight="bold" text-anchor="middle" y="660"><tspan x="1381">04</tspan><tspan x="1397.9">05</tspan><tspan x="1414.8">06</tspan><tspan x="1431.7">07</tspan><tspan x="1448.5">08</tspan><tspan x="1465.4">09</tspan><tspan x="1482.3">10</tspan><tspan x="1499.2">11</tspan><tspan x="1516">12</tspan><tspan x="1532.9">13</tspan><tspan x="1549.8">14</tspan><tspan x="1566.7">15</tspan><tspan x="1583.6">16</tspan><tspan x="1600.4">17</tspan><tspan x="1617.3">18</tspan><tspan x="1634.2">19</tspan><tspan x="1651.1">20</tspan><tspan x="1667.9">21</tspan><tspan x="1684.8">22</tspan><tspan x="1701.7">23</tspan><tspan x="1718.6">24</tspan></text>
<rect class="shd" x="1337.5" y="495" width="111.9" height="19"/>
<rect class="tbox" x="1334.5" y="492" width="111.9" height="19"/>
<text x="1338" y="506" font-size="11.4" font-weight="bold" text-decoration="underline">Level of Surcharge</text>
<rect class="legw" x="1487.7" y="496.6" width="223.8" height="32.4"/>
<line x1="1510" y1="512.3" x2="1538" y2="512.3" stroke="#000080" stroke-width="2"/><text class="ls" x="1541.4" y="516.5">Surcharge Amount</text>
</g>

<g id="source">
<text x="12" y="710" font-size="17" xml:space="preserve">Source:  Burton &amp; Associates</text>
</g>
</svg>
